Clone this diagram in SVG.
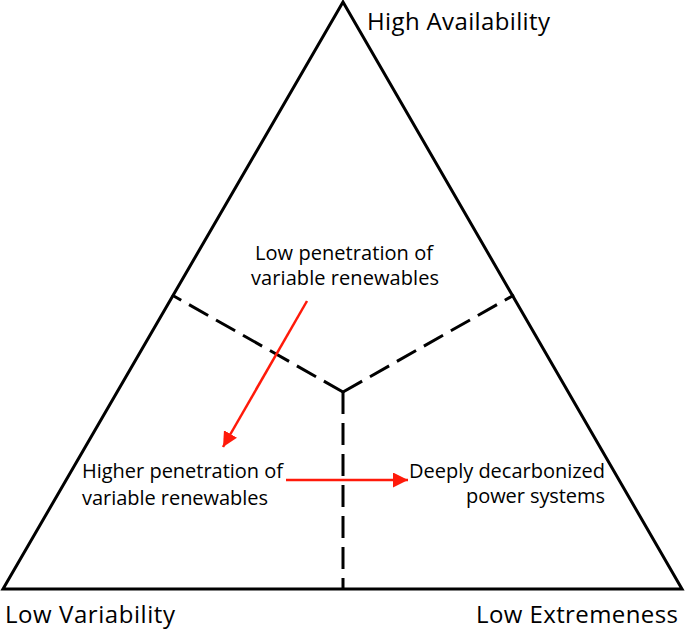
<svg xmlns="http://www.w3.org/2000/svg" width="685" height="630" viewBox="0 0 685 630">
<style>
.edge{fill:none;stroke:#000;stroke-width:3;stroke-linejoin:miter}
.dash{fill:none;stroke:#000;stroke-width:3;stroke-dasharray:22 9}
.arrow{fill:none;stroke:#ff1a0a;stroke-width:2.5}
.big{font-family:"Open Sans","Noto Sans",sans-serif;font-size:24px;fill:#000}
.lbl{font-family:"Open Sans","Noto Sans",sans-serif;font-size:20px;fill:#000}
</style>
<defs>
<marker id="ah" viewBox="0 0 10 10" refX="10" refY="5" markerWidth="6" markerHeight="6" markerUnits="strokeWidth" orient="auto">
<path d="M0,0 L10,5 L0,10 z" fill="#ff1a0a"/>
</marker>
</defs>
<g id="triangle">
<path class="edge" d="M343,2 L3,589 L682,589 Z"/>
</g>
<g id="dividers">
<path class="dash" d="M343,392 L172,295"/>
<path class="dash" d="M343,392 L514,295"/>
<path class="dash" d="M343,392 L343,589"/>
</g>
<g id="corner-high"><text class="big" x="367" y="30" textLength="183">High Availability</text></g>
<g id="corner-var"><text class="big" x="5" y="623" textLength="170">Low Variability</text></g>
<g id="corner-ext"><text class="big" x="476" y="623" textLength="202">Low Extremeness</text></g>
<g id="node-low">
<text class="lbl" x="255" y="260" textLength="178">Low penetration of</text>
<text class="lbl" x="251" y="285" textLength="188">variable renewables</text>
</g>
<g id="node-higher">
<text class="lbl" x="82" y="478" textLength="201">Higher penetration of</text>
<text class="lbl" x="82" y="505" textLength="186">variable renewables</text>
</g>
<g id="node-deep">
<text class="lbl" x="409" y="478" textLength="196">Deeply decarbonized</text>
<text class="lbl" x="466" y="503" textLength="139">power systems</text>
</g>
<g id="connectors">
<path class="arrow" d="M307,301 L223,447" marker-end="url(#ah)"/>
<path class="arrow" d="M286,480 L408,480" marker-end="url(#ah)"/>
</g>
</svg>
